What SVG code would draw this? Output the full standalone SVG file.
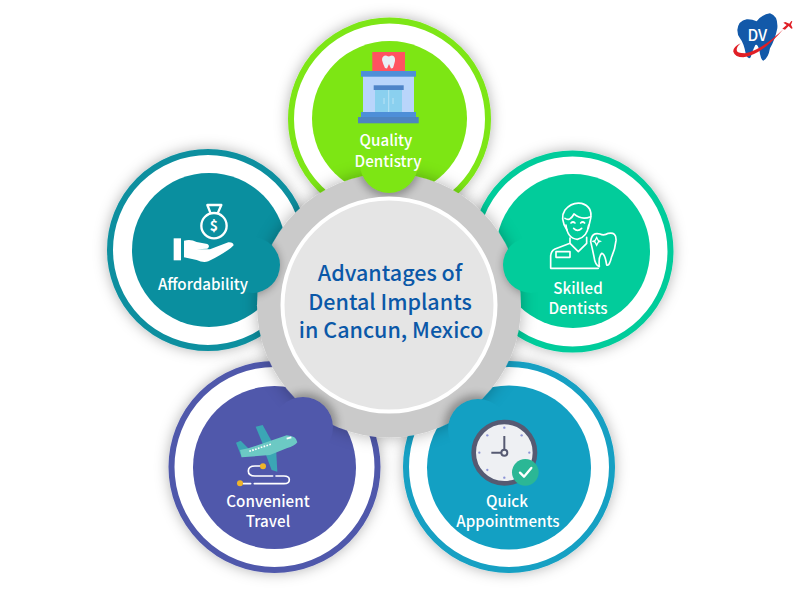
<svg xmlns="http://www.w3.org/2000/svg" width="800" height="600" viewBox="0 0 800 600">
<style>
text{font-family:"Noto Sans CJK SC","Noto Sans","Liberation Sans",sans-serif}
.lbl{font-size:15.200px;font-weight:500;fill:#fff;text-anchor:middle}
.ttl{font-size:21.500px;font-weight:500;fill:#0B58A8;text-anchor:middle}
.ring{fill:#fff;stroke-width:6}
.ln{fill:none;stroke:#fff;stroke-width:5;stroke-linecap:round;stroke-linejoin:round}
</style>
<defs>
<filter id="sh" x="-30%" y="-30%" width="160%" height="160%"><feDropShadow dx="0" dy="0" stdDeviation="7" flood-color="#000" flood-opacity=".3"/></filter>
<filter id="hs" x="-30%" y="-30%" width="160%" height="160%"><feDropShadow dx="0" dy="0" stdDeviation="8" flood-color="#000" flood-opacity=".3"/></filter>
<filter id="bl" x="-40%" y="-40%" width="180%" height="180%"><feGaussianBlur stdDeviation="4"/></filter>
<clipPath id="hubc"><circle cx="389" cy="305.500" r="132"/></clipPath>
<mask id="notches" maskUnits="userSpaceOnUse" x="0" y="0" width="800" height="600">
<rect width="800" height="600" fill="#fff"/>
<g fill="#000"><circle cx="389" cy="164" r="29"/><circle cx="531" cy="265" r="28"/><circle cx="252" cy="265" r="28"/><circle cx="303" cy="427" r="30"/><circle cx="478" cy="429" r="30"/></g>
</mask>
</defs>
<rect width="800" height="600" fill="#fff"/>

<g id="node-affordability">
<circle class="ring" cx="208" cy="250" r="98" stroke="#0A8F9F" filter="url(#sh)"/>
<circle cx="209" cy="250" r="77" fill="#0A8F9F"/>
<g transform="translate(100 140) scale(.3333)">
<circle class="ln" cx="342" cy="257" r="38" style="stroke-width:7"/>
<path class="ln" style="stroke-width:7" d="M331,218 L322,195 H364 L354,218"/>
<text x="342" y="272" font-size="42" font-weight="700" fill="#fff" text-anchor="middle">$</text>
<rect x="221" y="295" width="22" height="66" fill="#fff"/>
<path d="M252,302 Q272,296 290,306 L322,312 Q332,318 322,326 L290,328 L330,328 L385,307 Q400,306 401,316 Q385,334 325,364 Q310,370 290,360 L252,352Z" fill="#fff"/>
</g>
<text class="lbl" x="203" y="289.500">Affordability</text>
</g>

<g id="node-quality-dentistry">
<circle class="ring" cx="389.500" cy="119" r="98.500" stroke="#7DE614" filter="url(#sh)"/>
<circle cx="389.500" cy="118.500" r="77.500" fill="#7DE614"/>
<rect x="372.300" y="52" width="32.700" height="19" fill="#FF5260"/>
<path d="M382,60 Q382,55.500 386,55.500 Q388,56.500 389,56.500 Q391,55.500 392,55.500 Q395.500,56 395,61 Q394,65 393,68 L391,68.500 L389,64 L387,68.500 L385,68 Q383,64 382,60Z" fill="#E8EEF6"/>
<rect x="363" y="76" width="51" height="37" fill="#B9D5FB"/>
<rect x="361" y="71" width="55" height="5.700" fill="#4E8FD8"/>
<rect x="375" y="90" width="27" height="22" fill="#8AD0EF"/>
<rect x="373.700" y="85.300" width="30" height="4.700" fill="#4E84C8"/>
<path d="M388.700,90V112M384,98V104M393,98V104" stroke="#B9E3F5" stroke-width="1" fill="none"/>
<rect x="361" y="112" width="55" height="5" fill="#4E8FD8"/>
<rect x="358" y="117" width="60.700" height="6.300" fill="#4E84C0"/>
<text class="lbl" x="386" y="145.500">Quality</text>
<text class="lbl" x="388" y="166.500">Dentistry</text>
</g>

<g id="node-skilled-dentists">
<circle class="ring" cx="572.500" cy="251.500" r="98" stroke="#02CC9B" filter="url(#sh)"/>
<circle cx="573" cy="251" r="77" fill="#02CC9B"/>
<g transform="translate(470 150) scale(.3333)">
<path class="ln" d="M291,240 Q268,205 285,180 Q305,155 335,160 Q368,170 362,205 L355,235"/>
<path class="ln" d="M285,205 Q300,215 312,192 Q335,212 362,200"/>
<path class="ln" d="M288,225 Q292,265 322,268 Q352,262 356,225"/>
<path class="ln" d="M303,219 Q309,213 315,219M332,219 Q338,213 344,219M311,235 Q323,247 335,235"/>
<path class="ln" d="M300,264 V280 L325,305 L350,280 V262"/>
<path class="ln" d="M300,280 L255,297 Q242,303 242,320 V355 H385"/>
<rect class="ln" x="258" y="305" width="42" height="17"/>
<path class="ln" d="M362,275 Q365,245 390,252 Q402,258 415,250 Q440,245 438,272 Q435,300 425,320 Q418,350 410,345 Q405,310 395,310 Q385,320 388,350 Q375,345 372,320 Q368,300 362,275Z"/>
<path d="M380,258 L386,270 L396,274 L386,278 L380,290 L374,278 L364,274 L374,270Z" fill="#fff"/>
<path d="M380,267 L384,274 L380,281 L376,274Z" fill="#02CC9B"/>
</g>
<text class="lbl" x="578" y="294">Skilled</text>
<text class="lbl" x="578" y="314">Dentists</text>
</g>

<g id="node-convenient-travel">
<circle class="ring" cx="274.500" cy="467" r="103" stroke="#5058AB" filter="url(#sh)"/>
<circle cx="274.500" cy="467.500" r="81.500" fill="#5058AB"/>
<g transform="translate(160 360) scale(.3333)">
<path d="M287,200 L308,195 L345,262 L318,275Z" fill="#3BA6B5"/>
<path d="M316,280 L348,262 L352,335 L335,330Z" fill="#3BA6B5"/>
<path d="M228,248 L242,242 L266,266 L245,292Z" fill="#3BA6B5"/>
<path d="M245,292 L240,270 L265,265 L380,226 Q410,228 412,247 Q405,258 380,265 L330,285Z" fill="#6CC9C4"/>
<path d="M268,274 L335,252" stroke="#fff" stroke-width="5" stroke-dasharray="5 4" fill="none"/>
<path d="M380,236 L394,232" stroke="#fff" stroke-width="5" fill="none"/>
<path class="ln" d="M305,318 H285 Q265,318 265,333 Q265,348 285,348 H338M348,348 H372 Q388,348 388,359 Q388,371 372,371 H283M272,371 H250"/>
<circle cx="309" cy="319" r="9" fill="#F0B429"/>
<circle cx="240" cy="370" r="9" fill="#F0B429"/>
</g>
<text class="lbl" x="268" y="506.500">Convenient</text>
<text class="lbl" x="268" y="526.500">Travel</text>
</g>

<g id="node-quick-appointments">
<circle class="ring" cx="509" cy="467" r="103" stroke="#13A0C3" filter="url(#sh)"/>
<circle cx="509" cy="467.500" r="82" fill="#13A0C3"/>
<g transform="translate(400 360) scale(.3333)">
<circle cx="313" cy="278" r="92" fill="#EEF0F3" stroke="#565A72" stroke-width="14"/>
<g fill="#8C93D6"><circle cx="313" cy="203" r="3.500"/><circle cx="313" cy="353" r="3.500"/><circle cx="238" cy="278" r="3.500"/><circle cx="388" cy="278" r="3.500"/><circle cx="262" cy="226" r="3.500"/><circle cx="365" cy="226" r="3.500"/><circle cx="262" cy="330" r="3.500"/><circle cx="365" cy="330" r="3.500"/></g>
<path d="M313,268 V228M303,278 H274" stroke="#565A72" stroke-width="6" fill="none"/>
<circle cx="313" cy="278" r="9" fill="#EEF0F3" stroke="#565A72" stroke-width="6"/>
<circle cx="376" cy="337" r="40" fill="#2BB795"/>
<path d="M360,338 L372,350 L394,324" fill="none" stroke="#fff" stroke-width="7" stroke-linecap="round" stroke-linejoin="round"/>
</g>
<text class="lbl" x="507" y="507">Quick</text>
<text class="lbl" x="508" y="527">Appointments</text>
</g>

<g id="hub">
<circle cx="389" cy="305.500" r="132" fill="#CACACA" filter="url(#hs)" mask="url(#notches)"/>
<g clip-path="url(#hubc)"><g mask="url(#notches)"><g filter="url(#bl)" opacity=".3" fill="#000">
<circle cx="389" cy="166" r="31"/><circle cx="533" cy="265" r="30"/><circle cx="250" cy="265" r="30"/><circle cx="305" cy="425" r="32"/><circle cx="476" cy="427" r="32"/>
</g></g></g>
<circle cx="389" cy="305" r="106.500" fill="#E5E5E5" stroke="#fff" stroke-width="4"/>
<text class="ttl" x="390" y="281">Advantages of</text>
<text class="ttl" x="390" y="309.500">Dental Implants</text>
<text class="ttl" x="391" y="338">in Cancun, Mexico</text>
</g>

<g id="logo" transform="translate(720 0) scale(.3333)">
<path d="M52,90 Q55,62 80,58 Q95,57 110,64 Q128,42 150,40 Q175,48 172,85 Q165,120 150,145 Q145,175 130,182 Q122,180 118,150 Q112,130 106,135 Q98,150 92,172 Q85,180 78,165 Q72,130 60,115 Q52,105 52,90Z" fill="#1259A9"/>
<text x="112" y="122" font-size="46" font-weight="500" fill="#fff" text-anchor="middle">DV</text>
<path d="M62,130 Q38,142 40,155 Q45,172 70,172 Q125,165 190,88 Q125,150 75,160 Q50,160 50,150 Q50,140 62,130Z" fill="#E01F26"/>
<path d="M187,86 L200,75 L190,68 L196,66 L208,71 L214,63 L217,64 L213,74 L218,85 L214,86 L206,78 L195,89Z" fill="#E01F26"/>
</g>
</svg>
